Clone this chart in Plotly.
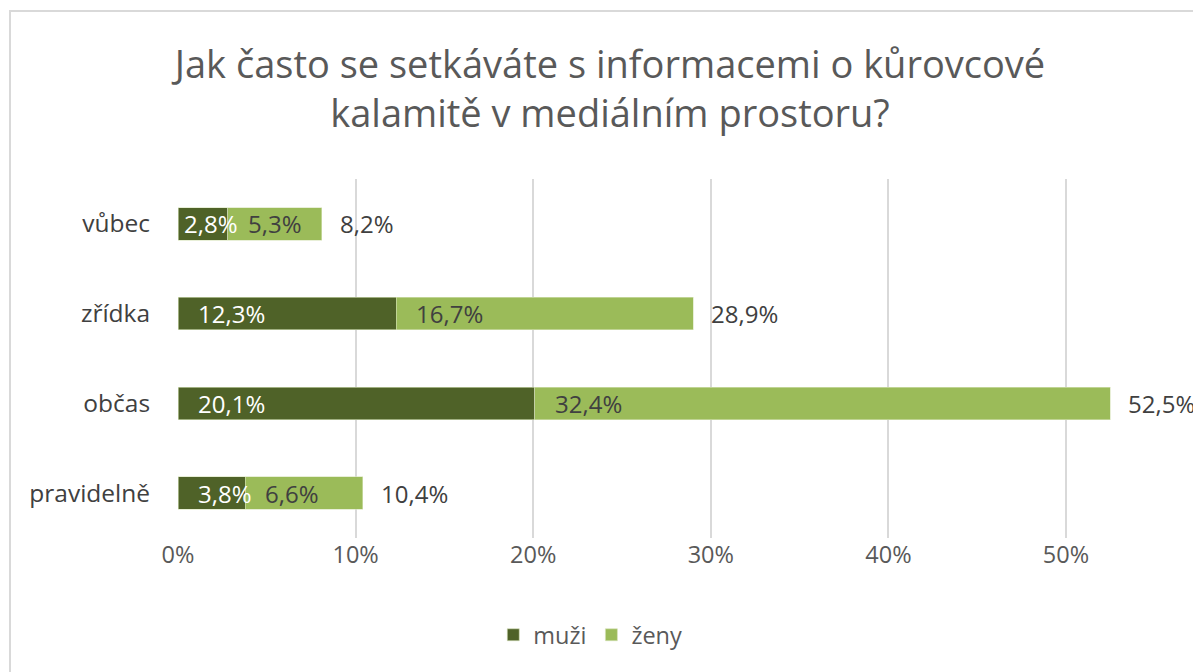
import plotly.graph_objects as go

categories = ["vůbec", "zřídka", "občas", "pravidelně"]
muzi = [2.8, 12.3, 20.1, 3.8]
zeny = [5.3, 16.7, 32.4, 6.6]
totals = [8.2, 28.9, 52.5, 10.4]
x_ticks = [0, 10, 20, 30, 40, 50]
x_tick_labels = ["0%", "10%", "20%", "30%", "40%", "50%"]
series_names = ["muži", "ženy"]

DARK = "#4F6228"
LIGHT = "#9BBB59"
TXT = "#404040"
FONT = "Open Sans"

# page body has an 8px margin; figure is sized to fill the rest
W, H = 1193, 664
ML, MR, MT, MB = 170, 0, 171, 134
XMAX = 57.6
px_per_unit = (W - ML - MR) / XMAX
PLOT_H = H - MT - MB

def fmt(v):
    return f"{v:.1f}".replace(".", ",") + "%"

fig = go.Figure()
fig.add_trace(go.Bar(y=categories, x=muzi, orientation="h", name=series_names[0],
                     marker=dict(color=DARK, line=dict(color="#d8e4bc", width=0.6)),
                     width=0.36, hoverinfo="skip"))
fig.add_trace(go.Bar(y=categories, x=zeny, orientation="h", name=series_names[1],
                     marker=dict(color=LIGHT, line=dict(color="#d8e4bc", width=0.6)),
                     width=0.36, hoverinfo="skip"))

LBL_SIZE = 24

def text_px(s):
    return len(s) * 0.54 * LBL_SIZE

annotations = []
for cat, m, z, t in zip(categories, muzi, zeny, totals):
    for base, val, col in ((0, m, "white"), (m, z, TXT)):
        s = fmt(val)
        seg_px = val * px_per_unit
        shift = min(18, max(4, seg_px + 4 - text_px(s)))
        annotations.append(dict(x=base, y=cat, xref="x", yref="y", text=s, showarrow=False,
                                xanchor="left", yanchor="middle", xshift=shift,
                                font=dict(family=FONT, size=LBL_SIZE, color=col)))
    annotations.append(dict(x=m + z, y=cat, xref="x", yref="y", text=fmt(t), showarrow=False,
                            xanchor="left", yanchor="middle", xshift=16,
                            font=dict(family=FONT, size=LBL_SIZE, color=TXT)))

fig.update_layout(
    barmode="stack",
    width=W, height=H,
    margin=dict(l=ML, r=MR, t=MT, b=MB),
    paper_bgcolor="white", plot_bgcolor="white",
    title=dict(text="Jak často se setkáváte s informacemi o kůrovcové<br>kalamitě v mediálním prostoru?",
               x=602 / W, xanchor="center", y=1 - 70 / H, yanchor="middle",
               font=dict(family=FONT, size=38, color="#595959")),
    xaxis=dict(range=[0, XMAX], tickvals=x_ticks, ticktext=x_tick_labels,
               showgrid=True, gridcolor="#d9d9d9", gridwidth=1.5, zeroline=False,
               showline=False, ticks="", ticklen=0,
               tickfont=dict(family=FONT, size=23.5, color="#595959")),
    yaxis=dict(categoryorder="array", categoryarray=categories[::-1],
               showgrid=False, zeroline=False, showline=False, ticks="outside",
               ticklen=22, tickcolor="rgba(0,0,0,0)",
               tickfont=dict(family=FONT, size=24.5, color=TXT)),
    legend=dict(orientation="h", x=0.403, xanchor="center",
                y=-(627 - (H - MB)) / PLOT_H, yanchor="middle",
                font=dict(family=FONT, size=23.5, color="#595959"),
                itemwidth=30, traceorder="normal"),
    annotations=annotations,
    shapes=[dict(type="rect", xref="paper", yref="paper",
                 x0=(2 - ML) / (W - ML), x1=1.02, y0=-0.45, y1=((H - MB) - 3) / PLOT_H,
                 line=dict(color="#d9d9d9", width=2), fillcolor="rgba(0,0,0,0)", layer="below")],
    showlegend=True,
)
fig.write_html("out.html")
